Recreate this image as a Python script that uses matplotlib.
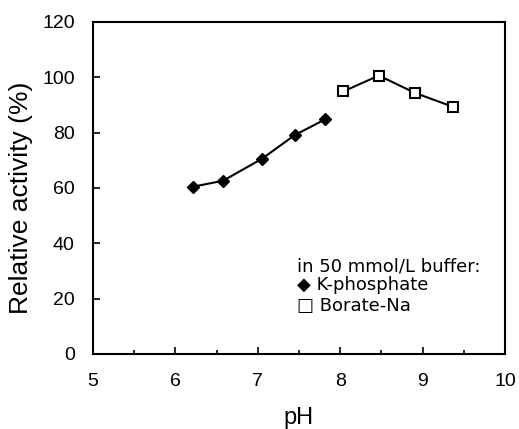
import matplotlib
matplotlib.use("Agg")
import matplotlib.pyplot as plt
from matplotlib.ticker import MultipleLocator

# data
ph_k = [6.21, 6.58, 7.05, 7.45, 7.82]
act_k = [60.4, 62.6, 70.5, 79.1, 84.8]
ph_b = [8.04, 8.47, 8.91, 9.37]
act_b = [94.9, 100.6, 94.3, 89.3]

legend_title = "in 50 mmol/L buffer:"
legend_k = "\u25c6 K-phosphate"
legend_b = "\u25a1 Borate-Na"

plt.rcParams['font.family'] = ['Liberation Sans', 'DejaVu Sans']

fig = plt.figure(figsize=(5.19, 4.29), dpi=100)
ax = fig.add_axes([0.179, 0.175, 0.794, 0.774])

ax.plot(ph_k, act_k, color='black', lw=1.5, marker='D', ms=6,
        mfc='black', mec='black')
ax.plot(ph_b, act_b, color='black', lw=1.5, marker='s', ms=6.5,
        mfc='white', mec='black', mew=1.5)

ax.set_xlim(5, 10)
ax.set_ylim(0, 120)
ax.xaxis.set_major_locator(MultipleLocator(1))
ax.xaxis.set_minor_locator(MultipleLocator(0.5))
ax.yaxis.set_major_locator(MultipleLocator(20))

ax.tick_params(axis='both', which='major', direction='in', length=5,
               width=1.2, labelsize=14, top=False, right=False)
ax.tick_params(axis='x', which='minor', direction='in', length=3,
               width=1.2, top=False)
ax.tick_params(axis='x', pad=14)
ax.tick_params(axis='y', pad=13)
for s in ax.spines.values():
    s.set_linewidth(1.5)

ax.set_xlabel('pH', fontsize=17)
ax.set_ylabel('Relative activity (%)', fontsize=19)
ax.xaxis.set_label_coords(0.5, -0.16)
ax.yaxis.set_label_coords(-0.146, 0.469)

# legend text
lf = ['DejaVu Sans']
ax.text(0.495, 0.262, legend_title, transform=ax.transAxes, fontsize=13,
        family=lf, va='center')
ax.text(0.495, 0.208, legend_k, transform=ax.transAxes, fontsize=13,
        family=lf, va='center')
ax.text(0.495, 0.144, legend_b, transform=ax.transAxes, fontsize=13,
        family=lf, va='center')

fig.savefig('out.png', dpi=100)
